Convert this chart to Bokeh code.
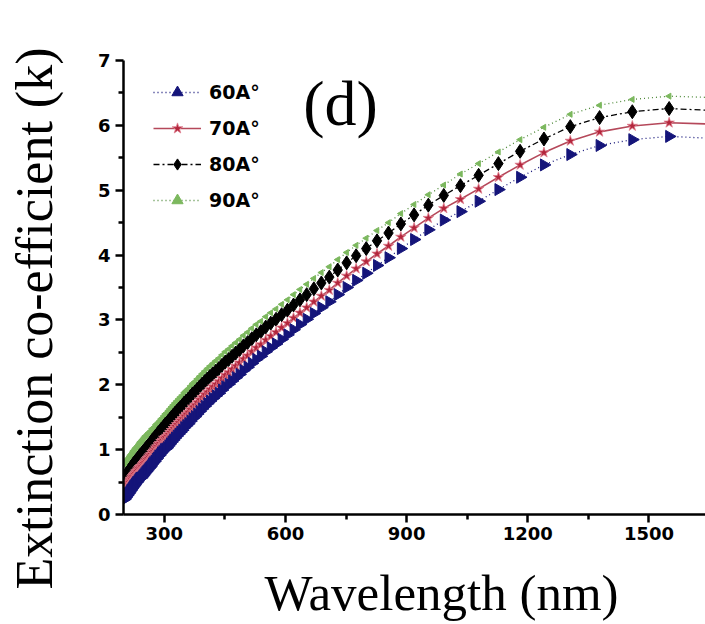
import numpy as np
from bokeh.plotting import figure
from bokeh.models import Range1d, FixedTicker, Label, Legend
from bokeh.embed import file_html
from bokeh.resources import INLINE

# Wavelength samples (nm)
wavelength = [
    200.0, 201.6, 203.3, 205.0, 206.7, 208.4, 210.2, 212.0, 213.8, 215.7,
    217.5, 219.5, 221.4, 223.4, 225.5, 227.5, 229.6, 231.8, 234.0, 236.2,
    238.5, 240.8, 243.1, 245.5, 248.0, 250.5, 253.1, 255.7, 258.3, 261.1,
    263.8, 266.7, 269.6, 272.5, 275.6, 278.7, 281.8, 285.1, 288.4, 291.8,
    295.2, 298.8, 302.4, 306.2, 310.0, 313.9, 317.9, 322.1, 326.3, 330.7,
    335.1, 339.7, 344.4, 349.3, 354.3, 359.4, 364.7, 370.1, 375.8, 381.5,
    387.5, 393.7, 400.0, 406.6, 413.3, 420.3, 427.6, 435.1, 442.9, 450.9,
    459.3, 467.9, 476.9, 486.3, 496.0, 506.1, 516.7, 527.7, 539.1, 551.1,
    563.6, 576.7, 590.5, 604.9, 620.0, 635.9, 652.6, 670.3, 688.9, 708.6,
    729.4, 751.5, 775.0, 800.0, 826.7, 855.2, 885.7, 918.5, 953.8, 992.0,
    1033.3, 1078.3, 1127.3, 1181.0, 1240.0, 1305.3, 1377.8, 1458.8, 1550.0, 1653.3,
]

k_60 = [
    0.23, 0.24, 0.26, 0.27, 0.29, 0.30, 0.32, 0.33, 0.35, 0.37,
    0.38, 0.40, 0.42, 0.44, 0.45, 0.47, 0.49, 0.50, 0.52, 0.54,
    0.56, 0.56, 0.57, 0.59, 0.61, 0.63, 0.65, 0.67, 0.69, 0.71,
    0.73, 0.75, 0.78, 0.80, 0.82, 0.85, 0.87, 0.90, 0.92, 0.95,
    0.97, 1.00, 1.01, 1.03, 1.06, 1.09, 1.12, 1.15, 1.18, 1.21,
    1.24, 1.27, 1.30, 1.34, 1.37, 1.40, 1.44, 1.48, 1.51, 1.55,
    1.59, 1.63, 1.67, 1.71, 1.75, 1.79, 1.83, 1.87, 1.92, 1.97,
    2.01, 2.06, 2.11, 2.16, 2.22, 2.27, 2.33, 2.39, 2.44, 2.51,
    2.57, 2.63, 2.70, 2.77, 2.85, 2.93, 3.01, 3.10, 3.19, 3.28,
    3.39, 3.50, 3.61, 3.72, 3.84, 3.96, 4.10, 4.24, 4.39, 4.54,
    4.67, 4.83, 5.01, 5.20, 5.39, 5.55, 5.69, 5.78, 5.83, 5.80,
]

k_70 = [
    0.40, 0.41, 0.43, 0.44, 0.46, 0.47, 0.49, 0.50, 0.52, 0.54,
    0.55, 0.57, 0.59, 0.61, 0.62, 0.64, 0.66, 0.67, 0.69, 0.71,
    0.73, 0.74, 0.75, 0.77, 0.79, 0.81, 0.83, 0.85, 0.87, 0.89,
    0.91, 0.93, 0.96, 0.98, 1.00, 1.03, 1.05, 1.08, 1.10, 1.13,
    1.15, 1.18, 1.19, 1.21, 1.24, 1.27, 1.30, 1.33, 1.36, 1.39,
    1.42, 1.45, 1.48, 1.52, 1.55, 1.58, 1.62, 1.66, 1.69, 1.73,
    1.77, 1.81, 1.85, 1.89, 1.93, 1.97, 2.01, 2.05, 2.10, 2.15,
    2.19, 2.24, 2.29, 2.34, 2.40, 2.45, 2.51, 2.57, 2.62, 2.69,
    2.75, 2.81, 2.88, 2.95, 3.03, 3.11, 3.19, 3.28, 3.37, 3.46,
    3.57, 3.68, 3.79, 3.90, 4.02, 4.14, 4.28, 4.42, 4.57, 4.72,
    4.86, 5.02, 5.20, 5.39, 5.58, 5.76, 5.90, 5.99, 6.04, 6.02,
]

k_80 = [
    0.57, 0.58, 0.60, 0.61, 0.63, 0.64, 0.66, 0.67, 0.69, 0.71,
    0.72, 0.74, 0.76, 0.78, 0.79, 0.81, 0.83, 0.84, 0.86, 0.88,
    0.90, 0.92, 0.93, 0.95, 0.97, 0.99, 1.01, 1.03, 1.05, 1.07,
    1.09, 1.11, 1.14, 1.16, 1.18, 1.21, 1.23, 1.26, 1.28, 1.31,
    1.33, 1.36, 1.39, 1.41, 1.44, 1.47, 1.50, 1.53, 1.56, 1.59,
    1.62, 1.65, 1.68, 1.72, 1.75, 1.78, 1.82, 1.86, 1.89, 1.93,
    1.97, 2.01, 2.05, 2.09, 2.13, 2.17, 2.21, 2.25, 2.30, 2.35,
    2.39, 2.44, 2.49, 2.54, 2.60, 2.65, 2.71, 2.77, 2.82, 2.89,
    2.95, 3.01, 3.08, 3.15, 3.23, 3.31, 3.39, 3.48, 3.57, 3.66,
    3.77, 3.88, 3.99, 4.10, 4.22, 4.34, 4.48, 4.62, 4.77, 4.92,
    5.07, 5.23, 5.41, 5.60, 5.79, 5.98, 6.12, 6.21, 6.26, 6.23,
]

k_90 = [
    0.78, 0.79, 0.80, 0.81, 0.83, 0.84, 0.86, 0.87, 0.89, 0.91,
    0.92, 0.94, 0.96, 0.98, 0.99, 1.01, 1.03, 1.04, 1.06, 1.08,
    1.10, 1.12, 1.13, 1.15, 1.17, 1.19, 1.21, 1.22, 1.24, 1.26,
    1.27, 1.29, 1.32, 1.33, 1.35, 1.38, 1.40, 1.42, 1.44, 1.47,
    1.49, 1.52, 1.55, 1.57, 1.60, 1.63, 1.66, 1.69, 1.72, 1.75,
    1.78, 1.81, 1.84, 1.88, 1.91, 1.94, 1.98, 2.02, 2.05, 2.09,
    2.13, 2.17, 2.21, 2.25, 2.29, 2.33, 2.37, 2.41, 2.46, 2.51,
    2.55, 2.60, 2.65, 2.70, 2.76, 2.81, 2.87, 2.93, 2.98, 3.05,
    3.11, 3.17, 3.24, 3.31, 3.39, 3.47, 3.55, 3.64, 3.73, 3.82,
    3.93, 4.04, 4.15, 4.26, 4.38, 4.50, 4.64, 4.78, 4.93, 5.08,
    5.25, 5.41, 5.59, 5.78, 5.97, 6.17, 6.31, 6.40, 6.45, 6.43,
]

series_labels = ["60A°", "70A°", "80A°", "90A°"]
x_ticks = [300, 600, 900, 1200, 1500]
x_minor = [450, 750, 1050, 1350, 1650]
y_ticks = [0, 1, 2, 3, 4, 5, 6, 7]
y_minor = [0.5, 1.5, 2.5, 3.5, 4.5, 5.5, 6.5]

p = figure(width=705, height=624, output_backend="svg", toolbar_location=None,
           x_range=Range1d(199, 1640), y_range=Range1d(0, 7),
           min_border_left=123, min_border_right=0, min_border_top=60,
           min_border_bottom=110)
p.outline_line_color = None
p.grid.visible = False
p.background_fill_color = "white"
p.border_fill_color = "white"

for ax in (p.xaxis[0], p.yaxis[0]):
    ax.axis_line_width = 2.5
    ax.axis_line_color = "black"
    ax.major_tick_line_width = 2.5
    ax.minor_tick_line_width = 2.5
    ax.major_tick_out = 8
    ax.major_tick_in = 0
    ax.minor_tick_out = 5
    ax.minor_tick_in = 0
    ax.major_label_text_font = "DejaVu Sans"
    ax.major_label_text_font_style = "bold"
    ax.major_label_text_font_size = "18px"
    ax.major_label_text_color = "black"

p.xaxis[0].ticker = FixedTicker(ticks=x_ticks, minor_ticks=x_minor)
p.yaxis[0].ticker = FixedTicker(ticks=y_ticks, minor_ticks=y_minor)
p.xaxis[0].major_label_standoff = 4
p.yaxis[0].major_label_standoff = 5

navy = "#15157a"
red_fill = "#b3263c"
red_line = "#b5485a"
green = "#7cb85e"

# 90
l90 = p.line(wavelength, k_90, line_color="#4f8a3a", line_width=1.3, line_dash="1 3")
s90 = p.scatter(wavelength, k_90, marker="triangle", angle=np.pi / 2, size=6,
                fill_color=green, line_color=green)
# 80
l80 = p.line(wavelength, k_80, line_color="black", line_width=1.3, line_dash="6 3 2 3")
s80 = p.scatter(wavelength, k_80, marker="diamond", size=14,
                fill_color="black", line_color="black")
# 70
l70 = p.line(wavelength, k_70, line_color=red_line, line_width=1.6)
s70 = p.scatter(wavelength, k_70, marker="star", size=11,
                fill_color=red_fill, line_color="#e08090", line_width=0.8)
# 60
l60 = p.line(wavelength, k_60, line_color=navy, line_width=1.3, line_dash="1 3")
s60 = p.scatter(wavelength, k_60, marker="triangle", angle=-np.pi / 2, size=12,
                fill_color=navy, line_color=navy)

legend = Legend(items=[
    (series_labels[0], [l60, s60]),
    (series_labels[1], [l70, s70]),
    (series_labels[2], [l80, s80]),
    (series_labels[3], [l90, s90]),
], location=(30, 300))
legend.background_fill_alpha = 0
legend.border_line_color = None
legend.label_text_font = "DejaVu Sans"
legend.label_text_font_style = "bold"
legend.label_text_font_size = "19px"
legend.label_text_color = "black"
legend.glyph_width = 48
legend.glyph_height = 28
legend.label_height = 28
legend.spacing = 8
legend.padding = 4
legend.margin = 0
legend.label_standoff = 8
p.add_layout(legend)

p.add_layout(Label(x=-3, y=196, x_units="screen", y_units="screen",
                   text="Extinction co-efficient (k)", angle=np.pi / 2,
                   text_font="Liberation Serif", text_font_size="52px",
                   text_color="black",
                   text_align="center", text_baseline="middle"), "left")
p.add_layout(Label(x=318, y=6, x_units="screen", y_units="screen",
                   text="Wavelength (nm)",
                   text_font="Liberation Serif", text_font_size="51px",
                   text_color="black",
                   text_align="center", text_baseline="middle"), "below")
p.add_layout(Label(x=217, y=411, x_units="screen", y_units="screen",
                   text="(d)",
                   text_font="Liberation Serif", text_font_size="64px",
                   text_color="black",
                   text_align="center", text_baseline="middle"))

open("out.html", "w").write(file_html(p, INLINE))
